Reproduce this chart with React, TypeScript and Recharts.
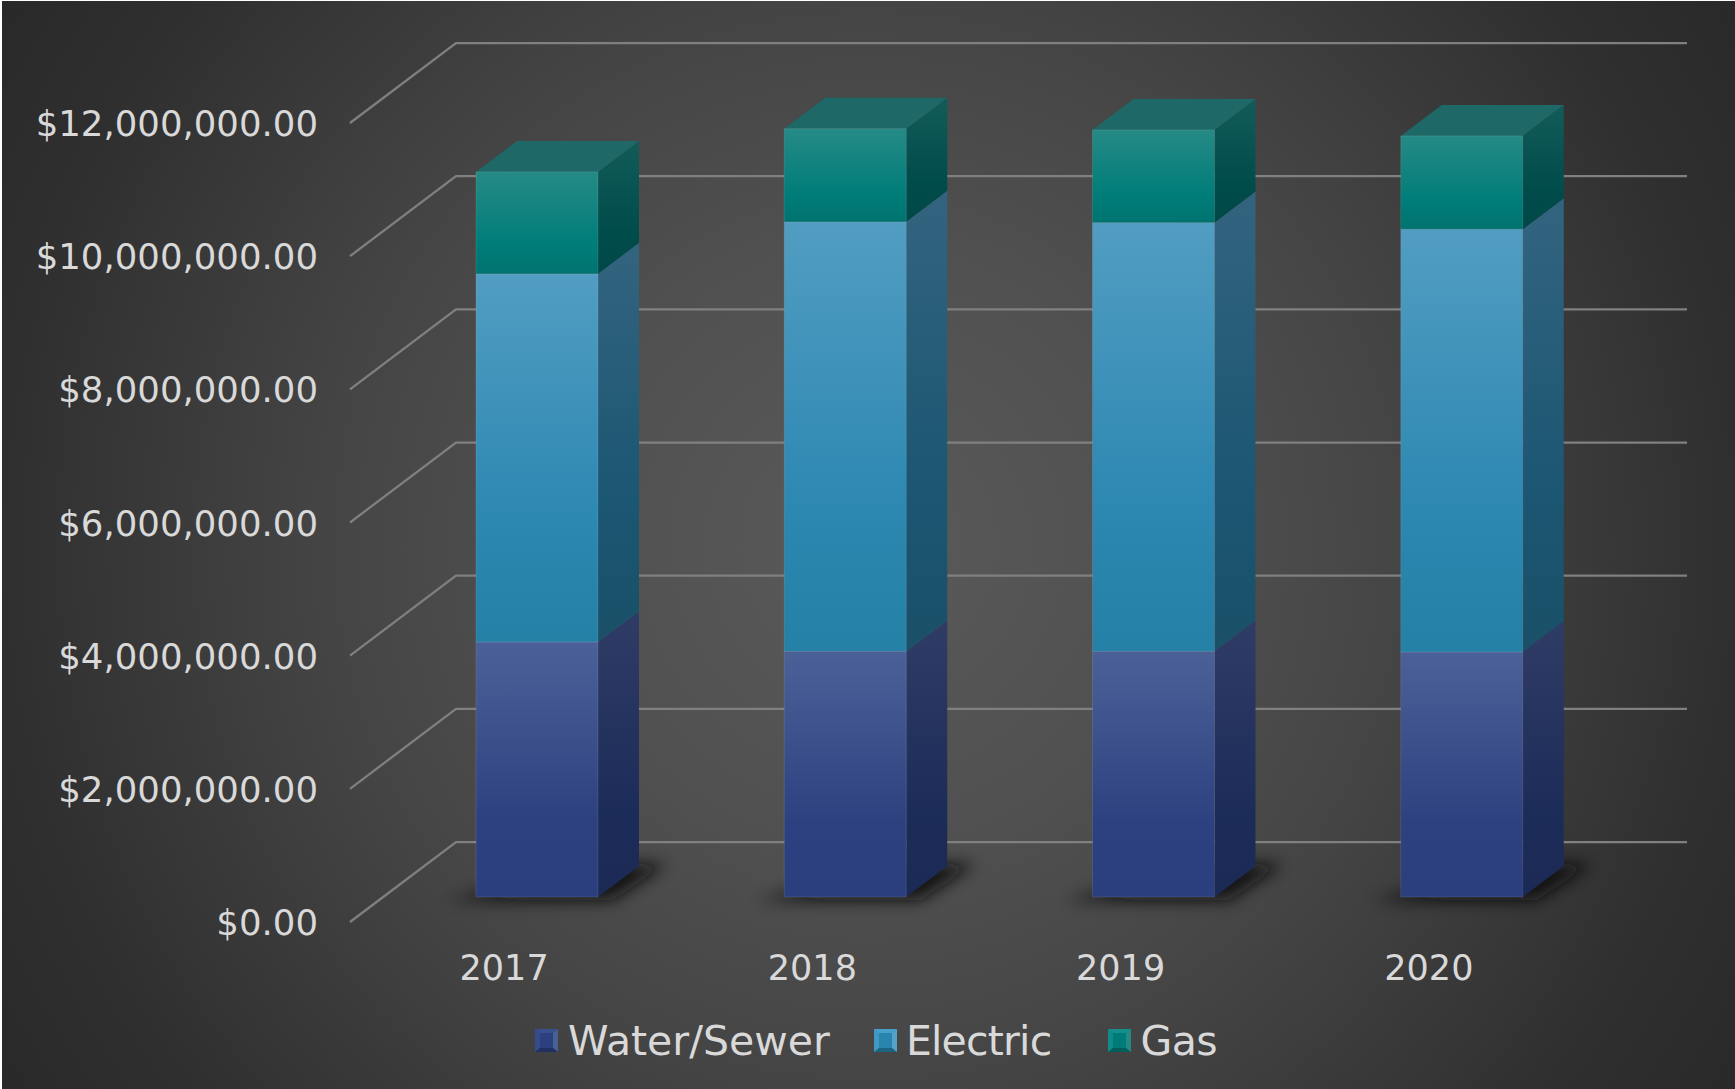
import React from 'react';
import { BarChart, Bar, XAxis, YAxis, CartesianGrid, Legend } from 'recharts';

const years = ['2017', '2018', '2019', '2020'];
const waterSewer = [3830000, 3690000, 3690000, 3680000];
const electric = [5530000, 6450000, 6440000, 6350000];
const gas = [1530000, 1400000, 1390000, 1400000];
const yTicks = [0, 2000000, 4000000, 6000000, 8000000, 10000000, 12000000];

const chartData = years.map((year, i) => ({
  year,
  'Water/Sewer': waterSewer[i],
  Electric: electric[i],
  Gas: gas[i],
}));

const FONT = '"DejaVu Sans", sans-serif';

// the 3D look of the Excel chart: wall depth, bar placement in the floor, bar depth
const WALL_DX = 106;
const WALL_DY = -80;
const BAR_DX = 33;
const BAR_DY = -25;
const DEPTH_DX = 41;
const DEPTH_DY = -31;
const GRID_END = 1687;

const swatches: Record<string, { light: string; mid: string; edge: string }> = {
  'Water/Sewer': { light: '#4a5f98', mid: '#2c4080', edge: '#3a4f8e' },
  Electric: { light: '#57a2c6', mid: '#2a85ae', edge: '#45a0cc' },
  Gas: { light: '#248a86', mid: '#007c78', edge: '#16908c' },
};

const money = (v: number) =>
  '$' + v.toLocaleString('en-US', { minimumFractionDigits: 2, maximumFractionDigits: 2 });

const Gradients = () => (
  <defs>
    <linearGradient id="frontWater" x1="0" y1="0" x2="0" y2="1">
      <stop offset="0" stopColor="#4c6098" />
      <stop offset="0.7" stopColor="#2d4180" />
      <stop offset="1" stopColor="#2b3f7e" />
    </linearGradient>
    <linearGradient id="frontElectric" x1="0" y1="0" x2="0" y2="1">
      <stop offset="0" stopColor="#529dc2" />
      <stop offset="0.65" stopColor="#2d88b2" />
      <stop offset="1" stopColor="#2580a6" />
    </linearGradient>
    <linearGradient id="frontGas" x1="0" y1="0" x2="0" y2="1">
      <stop offset="0" stopColor="#268a86" />
      <stop offset="0.7" stopColor="#007d79" />
      <stop offset="1" stopColor="#007370" />
    </linearGradient>
    <linearGradient id="sideWater" x1="0" y1="0" x2="0" y2="1">
      <stop offset="0" stopColor="#2f3c66" />
      <stop offset="0.7" stopColor="#1c2c58" />
      <stop offset="1" stopColor="#1b2a55" />
    </linearGradient>
    <linearGradient id="sideElectric" x1="0" y1="0" x2="0" y2="1">
      <stop offset="0" stopColor="#33647f" />
      <stop offset="0.65" stopColor="#1b5672" />
      <stop offset="1" stopColor="#1a5068" />
    </linearGradient>
    <linearGradient id="sideGas" x1="0" y1="0" x2="0" y2="1">
      <stop offset="0" stopColor="#125b59" />
      <stop offset="0.7" stopColor="#004c4b" />
      <stop offset="1" stopColor="#004847" />
    </linearGradient>
    <filter id="floorBlur" x="-30%" y="-150%" width="160%" height="400%">
      <feGaussianBlur stdDeviation="8" />
    </filter>
  </defs>
);

const Box = ({ x, y, width, height, name }: any) => {
  const left = x + BAR_DX;
  const top = y + BAR_DY;
  const right = left + width;
  const bottom = top + height;
  const isBase = name === 'water';
  const isTop = name === 'gas';
  const upper = name[0].toUpperCase() + name.slice(1);
  return (
    <g>
      {isBase && (
        <polygon
          points={`${left - 28},${bottom + 3} ${right + 14},${bottom + 3} ${right + DEPTH_DX + 28},${bottom + DEPTH_DY - 2} ${right + 20},${bottom + DEPTH_DY - 2}`}
          fill="#101010"
          opacity={0.9}
          filter="url(#floorBlur)"
        />
      )}
      <polygon
        points={`${right},${top} ${right + DEPTH_DX},${top + DEPTH_DY} ${right + DEPTH_DX},${bottom + DEPTH_DY} ${right},${bottom}`}
        fill={`url(#side${upper})`}
      />
      {isTop && (
        <polygon
          points={`${left},${top} ${left + DEPTH_DX},${top + DEPTH_DY} ${right + DEPTH_DX},${top + DEPTH_DY} ${right},${top}`}
          fill="#1e6967"
        />
      )}
      <rect x={left} y={top} width={width} height={height} fill={`url(#front${upper})`} />
      <rect x={left} y={top} width={width} height={height} fill="none" stroke="#ffffff" strokeOpacity={0.1} strokeWidth={1} />
    </g>
  );
};

const gridLine = (props: any) => {
  const { y1, index } = props;
  const frontX = 350;
  return (
    <polyline
      key={`grid-${index}-${y1}`}
      points={`${frontX},${y1} ${frontX + WALL_DX},${y1 + WALL_DY} ${GRID_END},${y1 + WALL_DY}`}
      fill="none"
      stroke="#808080"
      strokeWidth={2.25}
    />
  );
};

const Swatch = ({ name }: { name: string }) => {
  const c = swatches[name];
  return (
    <svg width={23} height={23} style={{ display: 'block', marginTop: -2 }}>
      <rect width={23} height={23} fill={c.mid} />
      <polygon points="0,0 5,4 5,19 0,23" fill={c.edge} opacity={0.75} />
      <polygon points="23,0 18,4 18,19 23,23" fill={c.light} />
      <polygon points="0,0 23,0 18,4 5,4" fill={c.edge} />
      <polygon points="0,23 23,23 18,19 5,19" fill="#000000" opacity={0.25} />
    </svg>
  );
};

const legendSpacing: Record<string, number> = { 'Water/Sewer': 0, Electric: -0.8, Gas: -0.5 };

const LegendRow = ({ payload }: any) => (
  <div style={{ display: 'flex', alignItems: 'center', fontFamily: FONT, fontSize: 41, color: '#d9d9d9', lineHeight: '48px' }}>
    {(payload || []).map((entry: any, i: number) => (
      <div key={entry.value} style={{ display: 'flex', alignItems: 'center', marginRight: i === 0 ? 44 : 57 }}>
        <Swatch name={entry.value} />
        <span style={{ marginLeft: i === 0 ? 10 : 9, letterSpacing: legendSpacing[entry.value] }}>{entry.value}</span>
      </div>
    ))}
  </div>
);

export default function App() {
  return (
    <div style={{ position: 'absolute', left: 0, top: 0, width: 1735, height: 1089, background: '#ffffff' }}>
      <div
        style={{
          position: 'absolute',
          left: 2,
          top: 1,
          width: 1733,
          height: 1088,
          background: 'radial-gradient(circle 1025px at 50% 50%, #5a5a5a 0%, #505050 30%, #444444 54%, #2f2f2f 85%, #292929 100%)',
        }}
      />
      <BarChart
        width={1735}
        height={1089}
        data={chartData}
        barSize={122}
        margin={{ top: 123, right: 152, bottom: 39, left: 0 }}
        style={{ position: 'absolute', left: 0, top: 0 }}
      >
        <Gradients />
        <CartesianGrid horizontal={gridLine} vertical={false} />
        <XAxis
          dataKey="year"
          axisLine={false}
          tickLine={false}
          tickMargin={27}
          height={80}
          tick={{ fill: '#d9d9d9', fontSize: 35, fontFamily: FONT, dx: 0 }}
        />
        <YAxis
          type="number"
          domain={[0, 12000000]}
          ticks={yTicks}
          width={350}
          axisLine={false}
          tickLine={false}
          tickMargin={26}
          tickFormatter={money}
          tick={{ fill: '#d9d9d9', fontSize: 35.5, fontFamily: FONT, dy: 0.5 }}
        />
        <Bar dataKey="Water/Sewer" stackId="a" fill="#2c4080" isAnimationActive={false} shape={(p: any) => <Box {...p} name="water" />} />
        <Bar dataKey="Electric" stackId="a" fill="#2a85ae" isAnimationActive={false} shape={(p: any) => <Box {...p} name="electric" />} />
        <Bar dataKey="Gas" stackId="a" fill="#007c78" isAnimationActive={false} shape={(p: any) => <Box {...p} name="gas" />} />
        <Legend
          content={<LegendRow />}
          itemSorter={null}
          wrapperStyle={{ position: 'absolute', left: 535, top: 1017, width: 800, bottom: 'auto' }}
        />
      </BarChart>
    </div>
  );
}
